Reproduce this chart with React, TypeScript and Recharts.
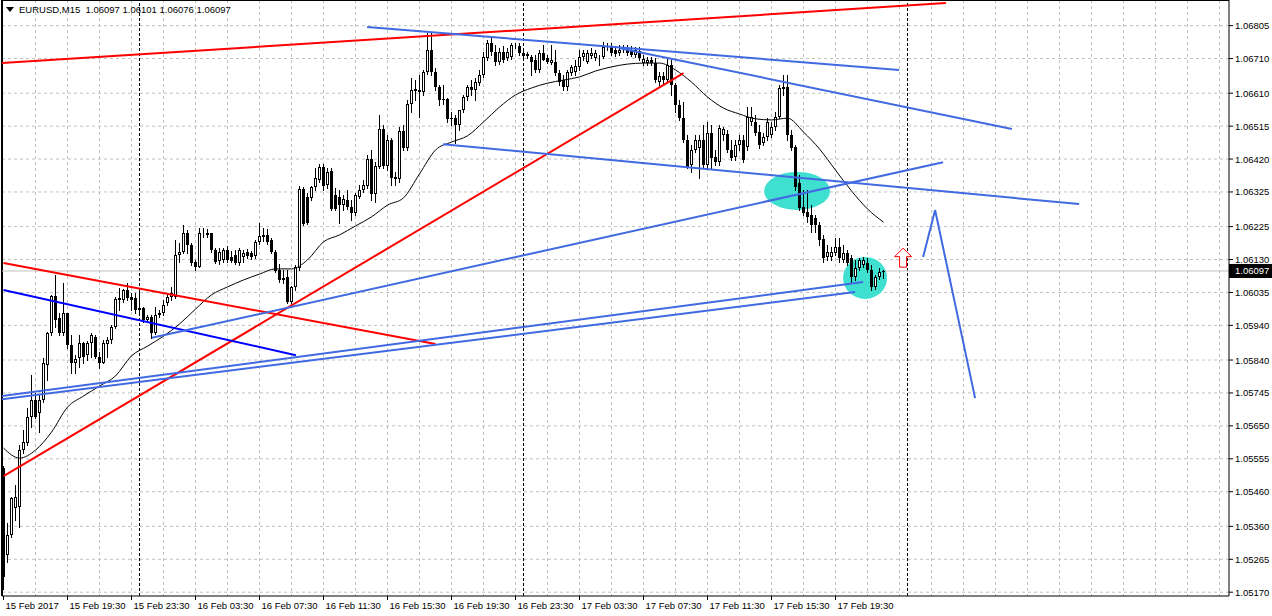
import React from "react";
import {
  ComposedChart,
  Bar,
  Line,
  XAxis,
  YAxis,
  CartesianGrid,
  ReferenceLine,
  ReferenceDot,
} from "recharts";

// EURUSD M15, one entry per 15-minute bar starting 15 Feb 2017 15:30
const opens = [
  1.05528, 1.05277, 1.05335, 1.05413, 1.05416, 1.0558, 1.056, 1.05676, 1.05725, 1.05687,
  1.05725, 1.05826, 1.05918, 1.06025, 1.05961, 1.05918, 1.05976, 1.05883, 1.05831, 1.05846,
  1.05889, 1.05854, 1.05889, 1.05906, 1.05849, 1.05831, 1.05886, 1.05898, 1.05935, 1.06013,
  1.06013, 1.06042, 1.06022, 1.06019, 1.05984, 1.0599, 1.05955, 1.05964, 1.05918, 1.0597,
  1.05976, 1.06004, 1.06022, 1.06022, 1.06143, 1.06152, 1.06207, 1.06172, 1.06123, 1.06108,
  1.06204, 1.06201, 1.06207, 1.06158, 1.06126, 1.06129, 1.06158, 1.06137, 1.06143, 1.0612,
  1.06137, 1.06152, 1.06149, 1.0614, 1.06181, 1.06201, 1.06201, 1.06186, 1.06152, 1.061,
  1.06077, 1.0608, 1.06007, 1.06051, 1.06106, 1.06334, 1.0631, 1.06308, 1.06339, 1.06359,
  1.06397, 1.06345, 1.06386, 1.06316, 1.0631, 1.06287, 1.06302, 1.06282, 1.06264, 1.0631,
  1.06331, 1.06342, 1.0642, 1.06319, 1.06397, 1.06507, 1.064, 1.06475, 1.06368, 1.06362,
  1.06501, 1.06452, 1.06579, 1.06622, 1.06619, 1.06613, 1.06671, 1.06735, 1.06671, 1.06628,
  1.06593, 1.06593, 1.06538, 1.06538, 1.06518, 1.06562, 1.06599, 1.06628, 1.06619, 1.06639,
  1.06663, 1.06712, 1.06755, 1.06729, 1.067, 1.06729, 1.06712, 1.06714, 1.06746, 1.06746,
  1.06726, 1.06723, 1.06714, 1.06706, 1.06677, 1.06726, 1.06712, 1.06697, 1.067, 1.06668,
  1.06648, 1.06628, 1.06668, 1.06671, 1.06686, 1.06714, 1.067, 1.06717, 1.06712, 1.06712,
  1.06714, 1.0674, 1.06743, 1.06735, 1.06726, 1.06735, 1.06735, 1.06735, 1.0672, 1.06732,
  1.06697, 1.06697, 1.06706, 1.06697, 1.06642, 1.0666, 1.06648, 1.06691, 1.06634, 1.06576,
  1.06538, 1.06475, 1.06403, 1.06446, 1.06452, 1.06475, 1.06403, 1.06495, 1.06426, 1.06411,
  1.06489, 1.06492, 1.06446, 1.06426, 1.06461, 1.06475, 1.06455, 1.06527, 1.06527, 1.06498,
  1.06466, 1.06484, 1.06489, 1.06512, 1.06541, 1.06622, 1.06628, 1.06489, 1.06455, 1.06351,
  1.06282, 1.06267, 1.06258, 1.0625, 1.0623, 1.06189, 1.06137, 1.06137, 1.06149, 1.06166,
  1.06129, 1.06149, 1.06134, 1.0608, 1.06106, 1.06114, 1.0612, 1.061, 1.06051, 1.0608,
  1.06097,
];

const highs = [
  1.05534, 1.0537, 1.05445, 1.05479, 1.05595, 1.05638, 1.05702, 1.05797, 1.05745, 1.05739,
  1.05846, 1.05921, 1.06028, 1.06085, 1.05976, 1.06062, 1.05976, 1.05912, 1.05854, 1.05912,
  1.05892, 1.05895, 1.05918, 1.05912, 1.05863, 1.05898, 1.05906, 1.05941, 1.06022, 1.06048,
  1.06045, 1.06062, 1.06033, 1.06033, 1.06042, 1.05993, 1.0597, 1.0597, 1.05993, 1.05984,
  1.06013, 1.06033, 1.06051, 1.06186, 1.06178, 1.0623, 1.06215, 1.06178, 1.06129, 1.06221,
  1.06221, 1.06218, 1.06207, 1.06163, 1.06163, 1.06163, 1.06169, 1.06155, 1.06158, 1.06163,
  1.06158, 1.0616, 1.06155, 1.06186, 1.06235, 1.06221, 1.06218, 1.06192, 1.06158, 1.06117,
  1.061, 1.061, 1.06054, 1.06114, 1.06342, 1.06339, 1.06322, 1.06342, 1.06394, 1.06406,
  1.06406, 1.06394, 1.06394, 1.06336, 1.06331, 1.06316, 1.06331, 1.06302, 1.06322, 1.06345,
  1.06359, 1.06432, 1.06446, 1.06411, 1.06547, 1.06518, 1.06489, 1.06481, 1.06383, 1.06512,
  1.06518, 1.0659, 1.06654, 1.06648, 1.06663, 1.06677, 1.06784, 1.06784, 1.06683, 1.06634,
  1.06634, 1.06596, 1.06556, 1.06547, 1.06562, 1.06605, 1.06634, 1.06648, 1.06654, 1.06677,
  1.06729, 1.06764, 1.06769, 1.06749, 1.0674, 1.06746, 1.0674, 1.06755, 1.06755, 1.06755,
  1.06735, 1.06729, 1.0672, 1.0672, 1.06735, 1.06749, 1.0672, 1.06749, 1.06735, 1.06677,
  1.06663, 1.06677, 1.06691, 1.06706, 1.06735, 1.06735, 1.06735, 1.0674, 1.06735, 1.0672,
  1.06758, 1.06755, 1.06755, 1.06746, 1.06749, 1.06749, 1.06749, 1.06746, 1.06743, 1.06743,
  1.0672, 1.06714, 1.06714, 1.06712, 1.06671, 1.06671, 1.06712, 1.06706, 1.06639, 1.0659,
  1.06585, 1.06489, 1.06461, 1.06489, 1.06489, 1.06518, 1.06527, 1.06518, 1.06446, 1.06518,
  1.06512, 1.06504, 1.06475, 1.06475, 1.06489, 1.06489, 1.0657, 1.0657, 1.06547, 1.06518,
  1.06495, 1.06538, 1.06527, 1.06556, 1.06634, 1.06663, 1.06663, 1.06504, 1.06461, 1.06374,
  1.06331, 1.06331, 1.06287, 1.06258, 1.06238, 1.06201, 1.06172, 1.06166, 1.06192, 1.06192,
  1.06172, 1.06158, 1.06143, 1.06129, 1.06134, 1.06137, 1.06134, 1.06114, 1.06085, 1.06106,
  1.06101,
];

const lows = [
  1.05179, 1.05257, 1.05329, 1.05378, 1.05358, 1.05572, 1.05595, 1.05647, 1.05673, 1.05632,
  1.05719, 1.05782, 1.05912, 1.05935, 1.05912, 1.05912, 1.05875, 1.05803, 1.05803, 1.0582,
  1.05831, 1.0584, 1.05849, 1.05846, 1.05817, 1.05831, 1.05849, 1.05889, 1.05932, 1.05984,
  1.06007, 1.06013, 1.05984, 1.05976, 1.05976, 1.0595, 1.0595, 1.05904, 1.05915, 1.05964,
  1.0597, 1.05999, 1.06013, 1.06019, 1.06123, 1.06149, 1.06149, 1.06114, 1.061, 1.06108,
  1.06195, 1.06195, 1.06152, 1.0612, 1.06117, 1.06123, 1.06123, 1.06123, 1.06117, 1.06114,
  1.06123, 1.06134, 1.06132, 1.06134, 1.06175, 1.06183, 1.06175, 1.06149, 1.06094, 1.06065,
  1.06062, 1.06004, 1.06002, 1.06042, 1.061, 1.0623, 1.06233, 1.06302, 1.06331, 1.06354,
  1.06331, 1.06336, 1.06273, 1.06273, 1.06235, 1.06273, 1.06276, 1.06244, 1.06258, 1.06308,
  1.06325, 1.06336, 1.06302, 1.06296, 1.06394, 1.06394, 1.06388, 1.06345, 1.06345, 1.06354,
  1.06446, 1.06446, 1.06556, 1.0659, 1.06541, 1.06605, 1.06665, 1.06663, 1.06619, 1.06576,
  1.06579, 1.06527, 1.06518, 1.06466, 1.06504, 1.06556, 1.0659, 1.06605, 1.0659, 1.06634,
  1.06657, 1.06706, 1.0672, 1.06691, 1.06694, 1.067, 1.06706, 1.06709, 1.0674, 1.0672,
  1.06714, 1.06712, 1.06663, 1.06671, 1.06671, 1.06706, 1.06697, 1.06694, 1.06663, 1.06634,
  1.06619, 1.06619, 1.06663, 1.06663, 1.06677, 1.06706, 1.06697, 1.06712, 1.06706, 1.06691,
  1.06712, 1.06735, 1.0672, 1.06717, 1.0672, 1.06729, 1.0672, 1.06717, 1.06714, 1.06706,
  1.06691, 1.06691, 1.06691, 1.06642, 1.06634, 1.06639, 1.06642, 1.06605, 1.06556, 1.06533,
  1.06469, 1.06394, 1.06383, 1.0644, 1.06365, 1.06394, 1.06394, 1.06394, 1.06403, 1.06403,
  1.06475, 1.0644, 1.06417, 1.06417, 1.06446, 1.06411, 1.06446, 1.06518, 1.06489, 1.06452,
  1.06461, 1.06475, 1.06484, 1.06504, 1.06538, 1.06605, 1.06475, 1.06446, 1.06331, 1.06273,
  1.06258, 1.06238, 1.06209, 1.06209, 1.06172, 1.06123, 1.06129, 1.06129, 1.06143, 1.06123,
  1.06123, 1.06114, 1.06062, 1.06071, 1.061, 1.06108, 1.06094, 1.06042, 1.06045, 1.06074,
  1.06076,
];

const closes = [
  1.05214, 1.05335, 1.05442, 1.05445, 1.0558, 1.05603, 1.05676, 1.05725, 1.05676, 1.05725,
  1.05831, 1.05918, 1.06025, 1.05955, 1.05918, 1.05976, 1.05883, 1.05831, 1.05843, 1.05889,
  1.05849, 1.05889, 1.05912, 1.05849, 1.05831, 1.05889, 1.05898, 1.05935, 1.06016, 1.06019,
  1.06042, 1.06019, 1.06013, 1.05984, 1.0599, 1.05955, 1.05964, 1.05918, 1.0597, 1.05976,
  1.05999, 1.06022, 1.06033, 1.06143, 1.06152, 1.06207, 1.06172, 1.0612, 1.06108, 1.06207,
  1.06207, 1.06207, 1.06158, 1.06123, 1.06152, 1.06158, 1.06129, 1.06126, 1.0612, 1.06158,
  1.06149, 1.0614, 1.06137, 1.06181, 1.06198, 1.06195, 1.06181, 1.06152, 1.06097, 1.06071,
  1.06071, 1.06007, 1.06051, 1.06108, 1.06334, 1.06233, 1.06235, 1.06339, 1.06365, 1.06397,
  1.06342, 1.06383, 1.06276, 1.06276, 1.06287, 1.06305, 1.06282, 1.06264, 1.06316, 1.06331,
  1.06345, 1.0642, 1.06319, 1.064, 1.06507, 1.064, 1.06475, 1.06365, 1.06362, 1.06501,
  1.06452, 1.06579, 1.06619, 1.06616, 1.06613, 1.06671, 1.06735, 1.06671, 1.06628, 1.0659,
  1.0659, 1.06536, 1.06536, 1.06518, 1.06562, 1.06599, 1.06628, 1.06619, 1.06642, 1.06663,
  1.06714, 1.06755, 1.06729, 1.067, 1.06729, 1.06706, 1.06729, 1.06749, 1.06749, 1.06726,
  1.06717, 1.06717, 1.067, 1.06677, 1.06726, 1.06706, 1.067, 1.06706, 1.06668, 1.06642,
  1.06628, 1.06671, 1.06686, 1.06689, 1.06714, 1.06726, 1.06726, 1.06726, 1.06726, 1.06714,
  1.06743, 1.06743, 1.06726, 1.06723, 1.06735, 1.06738, 1.06726, 1.0672, 1.06735, 1.06712,
  1.06709, 1.06706, 1.06697, 1.06648, 1.0666, 1.06648, 1.06691, 1.06634, 1.06576, 1.06538,
  1.06475, 1.06397, 1.06446, 1.06475, 1.06475, 1.06403, 1.06495, 1.06423, 1.06411, 1.06509,
  1.06507, 1.06446, 1.06423, 1.06461, 1.06475, 1.06417, 1.06541, 1.06541, 1.06495, 1.06461,
  1.06484, 1.06527, 1.06512, 1.06541, 1.06625, 1.06628, 1.06489, 1.06452, 1.06339, 1.06279,
  1.06264, 1.06253, 1.0623, 1.0623, 1.06186, 1.06134, 1.06152, 1.06152, 1.06166, 1.06134,
  1.06149, 1.0612, 1.0608, 1.06106, 1.06129, 1.06129, 1.061, 1.06051, 1.0608, 1.06094,
  1.06097,
];

// moving average, read every 4th bar
const maBars = [
  0, 4, 8, 12, 16, 20, 24, 28, 32, 36, 40, 44, 48, 52, 56, 60, 64, 68, 72, 76, 80, 84, 88, 92,
  96, 100, 104, 108, 112, 116, 120, 124, 128, 132, 136, 140, 144, 148, 152, 156, 160, 164,
  168, 172, 176, 180, 184, 188, 192, 196, 200, 204, 208, 212, 216, 220,
];
const maValues = [
  1.05586, 1.05557, 1.0558, 1.05632, 1.05704, 1.05736, 1.05765, 1.05794, 1.05852, 1.0588,
  1.05909, 1.05944, 1.05987, 1.06028, 1.06051, 1.06071, 1.06088, 1.06103, 1.06103, 1.06129,
  1.06181, 1.06201, 1.06227, 1.06253, 1.06287, 1.06308, 1.06377, 1.06446, 1.06469, 1.06487,
  1.06527, 1.0657, 1.06605, 1.06625, 1.06639, 1.06648, 1.06657, 1.06674, 1.06686, 1.06694,
  1.06697, 1.06697, 1.06677, 1.06642, 1.06599, 1.06567, 1.0655, 1.06536, 1.06533, 1.06538,
  1.06498, 1.06449, 1.06388, 1.06328, 1.06276, 1.06238,
];

const lastPrice = 1.06097;
const headerText = "EURUSD,M15  1.06097 1.06101 1.06076 1.06097";

const priceTicks = [
  1.06805, 1.0671, 1.0661, 1.06515, 1.0642, 1.06325, 1.06225, 1.0613, 1.06035, 1.0594,
  1.0584, 1.05745, 1.0565, 1.05555, 1.0546, 1.0536, 1.05265, 1.0517,
];

const timeTickBars = [0, 16, 32, 48, 64, 80, 96, 112, 128, 144, 160, 176, 192, 208];
const timeTickLabels = [
  "15 Feb 2017", "15 Feb 19:30", "15 Feb 23:30", "16 Feb 03:30", "16 Feb 07:30",
  "16 Feb 11:30", "16 Feb 15:30", "16 Feb 19:30", "16 Feb 23:30", "17 Feb 03:30",
  "17 Feb 07:30", "17 Feb 11:30", "17 Feb 15:30", "17 Feb 19:30",
];

// day separators (00:00)
const daySeparatorBars = [34, 130, 226];

// hand-drawn objects: [bar, price] pairs
const redLines = [
  [[-0.375, 1.06697], [235.6, 1.0687]],
  [[0, 1.05505], [170, 1.06668]],
  [[0, 1.0612], [108, 1.05886]],
];
const navyLines = [[[0, 1.06042], [73.1, 1.05854]]];
const blueLines = [
  [[90.9, 1.06801], [223.9, 1.06677]],
  [[154.1, 1.0674], [252.1, 1.06507]],
  [[109.9, 1.06463], [268.9, 1.0629]],
  [[37.1, 1.05904], [234.9, 1.06411]],
  [[-0.375, 1.05736], [214.9, 1.06065]],
  [[-0.375, 1.05727], [212.9, 1.06036]],
  [[229.9, 1.06137], [232.9, 1.06273]],
  [[232.9, 1.06273], [242.9, 1.0573]],
];
const ellipses = [
  { bar: 198.4, price: 1.06328, rx: 33, ry: 19 },
  { bar: 215.4, price: 1.06077, rx: 22, ry: 21 },
];
const upArrow = { bar: 224.9, price: 1.06134 };

const rows = opens.map((open, i) => ({
  i,
  open,
  high: highs[i],
  low: lows[i],
  close: closes[i],
  range: [lows[i], highs[i]],
}));
const maRows = maBars.map((i, k) => ({ i, ma: maValues[k] }));
const gridBars = Array.from({ length: 38 }, (_, k) => (k + 1) * 8);

const FONT = "'Liberation Sans', Arial, sans-serif";
const BLUE = "#4169E1";
const X_DOMAIN = [-0.375, 306.375];
const Y_DOMAIN = [1.05159, 1.06879];
const MARGIN = { top: 0, right: 0, left: 2, bottom: 0 };

const Candle = (props: any) => {
  const { x, y, width, height, payload } = props;
  if (x == null || y == null || !payload) return null;
  const { open, high, low, close } = payload;
  const top = Math.min(y, y + height);
  const h = Math.abs(height);
  const span = high - low;
  const toY = (v: number) => (span > 0 ? top + ((high - v) / span) * h : top);
  const cx = Math.floor(x + width / 2) + 0.5;
  const bTop = Math.round(toY(Math.max(open, close)));
  let bBot = Math.round(toY(Math.min(open, close)));
  if (bBot - bTop < 1) bBot = bTop + 1;
  const bull = close > open;
  return (
    <g>
      <line x1={cx} x2={cx} y1={Math.round(top)} y2={Math.round(top + h) + 1} stroke="#000" strokeWidth={1} />
      {bull ? (
        <rect x={cx - 1} y={bTop + 0.5} width={2} height={Math.max(0, bBot - bTop - 1)} fill="#fff" stroke="#000" strokeWidth={1} />
      ) : (
        <rect x={cx - 1.5} y={bTop} width={3} height={bBot - bTop} fill="#000" />
      )}
    </g>
  );
};

const PriceTick = (props: any) => {
  const { x, y, payload } = props;
  const v = payload.value as number;
  if (v === lastPrice) {
    return (
      <g>
        <rect x={x - 6} y={y - 7} width={44} height={14} fill="#000" />
        <text x={x} y={y + 3.5} fontSize={9.5} fontFamily={FONT} fill="#fff">
          {v.toFixed(5)}
        </text>
      </g>
    );
  }
  return (
    <text x={x} y={y + 3.5} fontSize={9.5} fontFamily={FONT} fill="#000">
      {v.toFixed(5)}
    </text>
  );
};

const TimeTick = (props: any) => {
  const { x, y, payload } = props;
  const label = timeTickLabels[timeTickBars.indexOf(payload.value)];
  return (
    <text x={x + 2} y={y + 7} fontSize={9.5} fontFamily={FONT} fill="#000">
      {label}
    </text>
  );
};

const segment = (p: number[][]) => [
  { x: p[0][0], y: p[0][1] },
  { x: p[1][0], y: p[1][1] },
];

const layer: React.CSSProperties = { position: "absolute", left: 0, top: 0 };

export default function App() {
  return (
    <div style={{ position: "absolute", left: 0, top: 0, width: 1272, height: 616, background: "#fff", overflow: "hidden" }}>
      {/* background layer: grid, separators, filled objects, axes */}
      <div style={layer}>
        <ComposedChart width={1272} height={616} data={rows} margin={MARGIN}>
          <CartesianGrid
            stroke="#c0c0c0"
            strokeDasharray="3 3"
            horizontalValues={priceTicks}
            verticalValues={gridBars}
          />
          <XAxis
            type="number"
            dataKey="i"
            domain={X_DOMAIN}
            allowDataOverflow
            ticks={timeTickBars}
            interval={0}
            height={20}
            tickSize={4}
            tickMargin={2}
            tick={<TimeTick />}
            axisLine={{ stroke: "#000" }}
            tickLine={{ stroke: "#000" }}
          />
          <YAxis
            orientation="right"
            type="number"
            domain={Y_DOMAIN}
            allowDataOverflow
            ticks={[...priceTicks, lastPrice]}
            interval={0}
            width={43}
            tickSize={4}
            tickMargin={2}
            tick={<PriceTick />}
            axisLine={{ stroke: "#000" }}
            tickLine={{ stroke: "#000" }}
          />
          {daySeparatorBars.map((b) => (
            <ReferenceLine key={`sep-${b}`} x={b} stroke="#000" strokeDasharray="3 2" ifOverflow="hidden" />
          ))}
          <ReferenceLine x={-0.375} stroke="#000" strokeWidth={2} ifOverflow="visible" />
          <ReferenceLine y={1.06879} stroke="#000" strokeWidth={2} ifOverflow="visible" />
          <ReferenceLine y={lastPrice} stroke="#c0c0c0" ifOverflow="hidden" />
          {ellipses.map((e, k) => (
            <ReferenceDot
              key={`el-${k}`}
              x={e.bar}
              y={e.price}
              r={1}
              ifOverflow="visible"
              shape={(p: any) => <ellipse cx={p.cx} cy={p.cy} rx={e.rx} ry={e.ry} fill="#40E0D0" />}
            />
          ))}
        </ComposedChart>
      </div>
      {/* foreground layer: candles, moving average, trend lines */}
      <div style={layer}>
        <ComposedChart width={1272} height={616} data={rows} margin={MARGIN}>
          <XAxis
            type="number"
            dataKey="i"
            domain={X_DOMAIN}
            allowDataOverflow
            ticks={timeTickBars}
            height={20}
            tick={false}
            tickLine={false}
            axisLine={false}
          />
          <YAxis
            orientation="right"
            type="number"
            domain={Y_DOMAIN}
            allowDataOverflow
            width={43}
            tick={false}
            tickLine={false}
            axisLine={false}
          />
          <Bar dataKey="range" barSize={3} shape={<Candle />} isAnimationActive={false} />
          <Line
            data={maRows}
            dataKey="ma"
            type="monotone"
            stroke="#000"
            strokeWidth={1}
            dot={false}
            connectNulls
            isAnimationActive={false}
          />
          {redLines.map((p, k) => (
            <ReferenceLine key={`r-${k}`} segment={segment(p)} stroke="#FF0000" strokeWidth={2} ifOverflow="hidden" />
          ))}
          {navyLines.map((p, k) => (
            <ReferenceLine key={`n-${k}`} segment={segment(p)} stroke="#0000FF" strokeWidth={2} ifOverflow="hidden" />
          ))}
          {blueLines.map((p, k) => (
            <ReferenceLine key={`b-${k}`} segment={segment(p)} stroke={BLUE} strokeWidth={2} ifOverflow="hidden" />
          ))}
          <ReferenceDot
            x={upArrow.bar}
            y={upArrow.price}
            r={1}
            ifOverflow="visible"
            shape={(p: any) => (
              <polygon
                transform={`translate(${p.cx},${p.cy})`}
                points="0,-10 8.5,-1.5 3.5,-1.5 3.5,9 -3.5,9 -3.5,-1.5 -8.5,-1.5"
                fill="#fff"
                stroke="#FF0000"
                strokeWidth={1}
              />
            )}
          />
        </ComposedChart>
      </div>
      <div style={{ position: "absolute", left: 6, top: 4, display: "flex", alignItems: "center", fontFamily: FONT, fontSize: 9.5, color: "#000", lineHeight: "12px" }}>
        <svg width={8} height={6} style={{ marginRight: 5 }}>
          <polygon points="0,0 8,0 4,5" fill="#000" />
        </svg>
        <span style={{ whiteSpace: "pre" }}>{headerText}</span>
      </div>
    </div>
  );
}
